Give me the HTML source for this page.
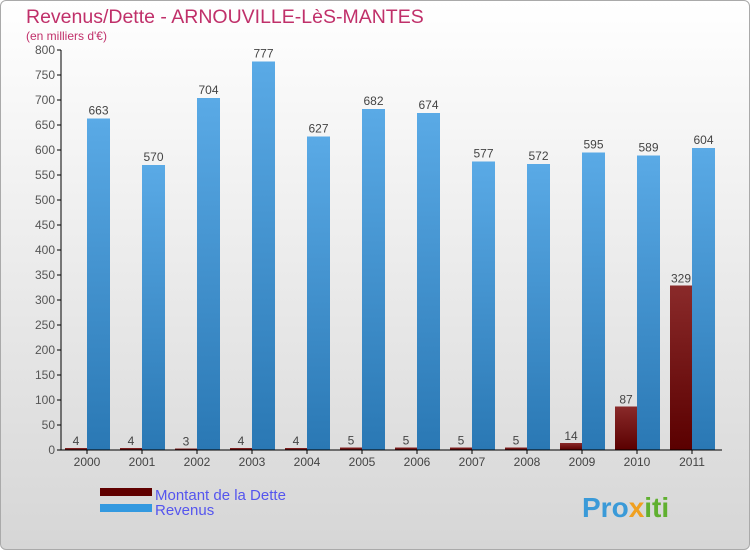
<!DOCTYPE html>
<html><head><meta charset="utf-8"><style>
body{margin:0;width:750px;height:550px;overflow:hidden;font-family:"Liberation Sans",sans-serif}
#wrap{position:absolute;left:0;top:0;width:748px;height:548px;border:1px solid #aaa;border-radius:6px;background:linear-gradient(#ffffff,#d6d6d6)}
</style></head><body>
<div id="wrap"></div>
<svg id="c" width="750" height="550" style="position:absolute;left:0;top:0">
<defs>
<linearGradient id="gb" x1="0" y1="0" x2="0" y2="1"><stop offset="0" stop-color="#5aaae6"/><stop offset="1" stop-color="#2a78b4"/></linearGradient>
<linearGradient id="gr" x1="0" y1="0" x2="0" y2="1"><stop offset="0" stop-color="#8a2a2a"/><stop offset="1" stop-color="#5a0000"/></linearGradient>
</defs>
<text x="26" y="23" font-size="19.5" fill="#c0306a">Revenus/Dette - ARNOUVILLE-LèS-MANTES</text>
<text x="26" y="40" font-size="12" fill="#c0306a">(en milliers d'€)</text>
<g id="plot"></g>
<rect x="100" y="488" width="52" height="8" fill="#600000"/>
<text x="155" y="500" font-size="15" fill="#5555ee">Montant de la Dette</text>
<rect x="100" y="504" width="52" height="8" fill="#3399e0"/>
<text x="155" y="515" font-size="15" fill="#5555ee">Revenus</text>
<text x="582" y="517" font-size="28" font-weight="bold" fill="#3a9ad8">Pro<tspan fill="#f0a020">x</tspan><tspan fill="#60b030">iti</tspan></text>
</svg>
<script>
const years=["2000","2001","2002","2003","2004","2005","2006","2007","2008","2009","2010","2011"];
const debt=[4,4,3,4,4,5,5,5,5,14,87,329];
const revenue=[663,570,704,777,627,682,674,577,572,595,589,604];
const yTicks=[0,50,100,150,200,250,300,350,400,450,500,550,600,650,700,750,800];
const NS="http://www.w3.org/2000/svg";
const g=document.getElementById('plot');
const y=v=>450-v*0.5, x=i=>87+i*55;
function mk(t,a,txt){const e=document.createElementNS(NS,t);for(const k in a)e.setAttribute(k,a[k]);if(txt!=null)e.textContent=txt;g.appendChild(e);return e;}
yTicks.forEach(v=>{
 const l=mk('line',{x1:57,x2:61,y1:y(v),y2:y(v),stroke:'#000'});
 
 
 const t=mk('text',{x:55,y:y(v)+4,'font-size':12,fill:'#555','text-anchor':'end'},v);
 
 
});
years.forEach((yr,i)=>{
 const cx=x(i);
 const d=mk('rect',{x:cx-22,y:y(debt[i]),width:22,height:debt[i]*0.5,fill:'url(#gr)'});
 
 
 const dl=mk('text',{x:cx-11,y:y(debt[i])-3,'font-size':12,fill:'#444','text-anchor':'middle'},debt[i]);
 
 
 const r=mk('rect',{x:cx,y:y(revenue[i]),width:23,height:revenue[i]*0.5,fill:'url(#gb)'});
 
 
 const rl=mk('text',{x:cx+11.5,y:y(revenue[i])-4,'font-size':12,fill:'#444','text-anchor':'middle'},revenue[i]);
 
 
 const tk=mk('line',{x1:cx,x2:cx,y1:450,y2:454,stroke:'#000'});
 
 
 const xl=mk('text',{x:cx,y:466,'font-size':12,fill:'#444','text-anchor':'middle'},yr);
 
 
});
const ya=mk('line',{x1:61,x2:61,y1:50,y2:450,stroke:'#000'});


const xa=mk('line',{x1:61,x2:722,y1:450,y2:450,stroke:'#000'});


</script>
</body></html>
